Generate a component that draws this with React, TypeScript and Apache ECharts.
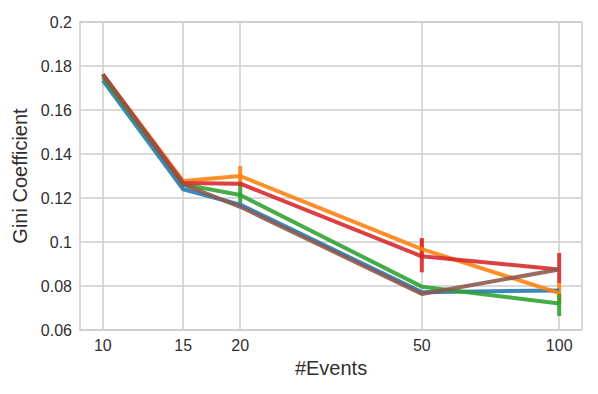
import React, { useEffect, useRef } from "react";
import * as echarts from "echarts";

const events = [10, 15, 20, 50, 100];

const seriesNames = ["blue", "orange", "green", "red", "brown"];
const colors = ["#1f77b4", "#ff7f0e", "#2ca02c", "#d62728", "#8c564b"];
const blueVals = [0.1735, 0.124, 0.117, 0.0772, 0.078];
const orangeVals = [0.1762, 0.1277, 0.13, 0.0968, 0.0768];
const greenVals = [0.175, 0.1262, 0.1214, 0.0797, 0.072];
const redVals = [0.1762, 0.1268, 0.1265, 0.0935, 0.0875];
const brownVals = [0.1762, 0.1262, 0.116, 0.0764, 0.0875];

// error bars: [x, low, high]
const blueErr: number[][] = [];
const orangeErr = [
  [20, 0.1255, 0.1345],
  [50, 0.0925, 0.1012],
  [100, 0.0722, 0.0815],
];
const greenErr = [
  [20, 0.1177, 0.1268],
  [100, 0.0664, 0.0765],
];
const redErr = [
  [50, 0.0862, 0.1018],
  [100, 0.0814, 0.095],
];
const brownErr: number[][] = [];

const allVals = [blueVals, orangeVals, greenVals, redVals, brownVals];
const allErr = [blueErr, orangeErr, greenErr, redErr, brownErr];

const textColor = "#303030";
const gridColor = "#cccccc";
const font = "Liberation Sans";

export default function App() {
  const ref = useRef<HTMLDivElement>(null);
  useEffect(() => {
    if (!ref.current) return;
    const chart = echarts.init(ref.current, undefined, { renderer: "svg" });
    const series: any[] = [];
    allVals.forEach((vals, i) => {
      series.push({
        name: seriesNames[i],
        type: "line",
        data: events.map((x, j) => [x, vals[j]]),
        symbol: "none",
        lineStyle: { color: colors[i], width: 4, opacity: 0.88 },
        itemStyle: { color: colors[i] },
      });
      if (allErr[i].length) {
        series.push({
          name: seriesNames[i] + "-err",
          type: "custom",
          data: allErr[i],
          renderItem: (params: any, api: any) => {
            const x = api.value(0);
            const p1 = api.coord([x, api.value(1)]);
            const p2 = api.coord([x, api.value(2)]);
            return {
              type: "line",
              shape: { x1: p1[0], y1: p1[1], x2: p2[0], y2: p2[1] },
              style: { stroke: colors[i], lineWidth: 4, opacity: 0.88 },
            };
          },
        });
      }
    });
    chart.setOption({
      animation: false,
      backgroundColor: "#ffffff",
      grid: {
        left: 80,
        right: 16,
        top: 22,
        bottom: 64,
        show: true,
        borderColor: gridColor,
        borderWidth: 1.5,
      },
      xAxis: {
        type: "log",
        logBase: 10,
        min: 8.913,
        max: 112.2,
        name: "#Events",
        nameLocation: "middle",
        nameGap: 28,
        nameTextStyle: { color: textColor, fontSize: 20, fontFamily: font },
        axisLine: { show: false },
        axisTick: { show: false, customValues: events },
        axisLabel: {
          customValues: events,
          color: textColor,
          fontSize: 16,
          fontFamily: font,
          margin: 7,
        },
        splitLine: { show: true, lineStyle: { color: gridColor, width: 1.5 } },
      },
      yAxis: {
        type: "value",
        min: 0.06,
        max: 0.2,
        interval: 0.02,
        name: "Gini Coefficient",
        nameLocation: "middle",
        nameGap: 48,
        nameTextStyle: { color: textColor, fontSize: 20, fontFamily: font },
        axisLine: { show: false },
        axisTick: { show: false },
        axisLabel: {
          color: textColor,
          fontSize: 16,
          fontFamily: font,
          margin: 8,
          formatter: (v: number) => String(parseFloat(v.toFixed(2))),
        },
        splitLine: { show: true, lineStyle: { color: gridColor, width: 1.5 } },
      },
      series,
    });
    return () => chart.dispose();
  }, []);
  return <div ref={ref} style={{ width: 598, height: 394, position: "absolute", left: 0, top: 0 }} />;
}
